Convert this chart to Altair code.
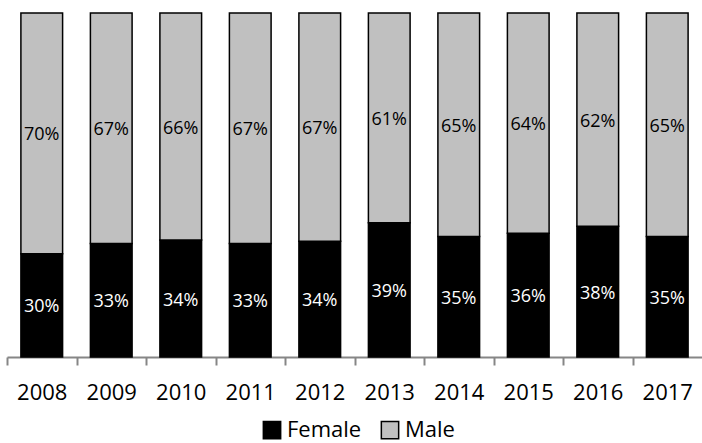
import altair as alt
import pandas as pd

# Share of each sex per year (percent)
years = ["2008", "2009", "2010", "2011", "2012", "2013", "2014", "2015", "2016", "2017"]
female = [30, 33, 34, 33, 34, 39, 35, 36, 38, 35]
male = [70, 67, 66, 67, 67, 61, 65, 64, 62, 65]
series = ["Female", "Male"]
colors = ["#000000", "#c0c0c0"]
label_colors = ["#ffffff", "#000000"]

rows = []
for i, y in enumerate(years):
    rows.append({"year": y, "sex": "Female", "value": female[i], "order": 0})
    rows.append({"year": y, "sex": "Male", "value": male[i], "order": 1})
df = pd.DataFrame(rows)

FONT = "Open Sans"
PLOT_W = 695
STEP = PLOT_W / len(years)  # band step with paddingInner 0.4, paddingOuter 0.2

base = (
    alt.Chart(df)
    .transform_joinaggregate(total="sum(value)", groupby=["year"])
    .transform_calculate(frac="datum.value / datum.total")
    .transform_stack(
        stack="frac", groupby=["year"], as_=["y0", "y1"],
        sort=[alt.SortField("order", order="ascending")],
    )
    .transform_calculate(mid="(datum.y0 + datum.y1) / 2",
                         label="datum.value + '%'")
)

# ticks sit halfway between categories, labels stay centred on the bars
x_enc = alt.X(
    "year:N",
    sort=years,
    title=None,
    scale=alt.Scale(paddingInner=0.4, paddingOuter=0.2),
    axis=alt.Axis(
        labelAngle=0, labelFont=FONT, labelFontSize=22, labelColor="#000000",
        labelPadding=17, labelOffset=STEP / 2,
        ticks=True, tickSize=8, tickOffset=-STEP / 2,
        tickColor="#868686", tickWidth=2, domainColor="#868686",
        domainWidth=2, grid=False,
    ),
)
y_scale = alt.Scale(domain=[0, 1], nice=False, zero=True)

bars = base.mark_bar(stroke="#000000", strokeWidth=1.5).encode(
    x=x_enc,
    y=alt.Y("y0:Q", scale=y_scale, axis=None),
    y2="y1:Q",
    color=alt.Color(
        "sex:N",
        scale=alt.Scale(domain=series, range=colors),
        legend=alt.Legend(
            title=None, orient="none", direction="horizontal",
            legendX=254, legendY=406, symbolType="square", symbolSize=300,
            symbolStrokeColor="#000000", symbolStrokeWidth=1.5,
            labelFont=FONT, labelFontSize=22, labelColor="#000000",
            columnPadding=16, labelOffset=4,
        ),
    ),
)

labels = base.mark_text(font=FONT, fontSize=18, dy=2).encode(
    x=alt.X("year:N", sort=years),
    y=alt.Y("mid:Q", scale=y_scale),
    text="label:N",
    color=alt.Color("sex:N", scale=alt.Scale(domain=series, range=label_colors),
                    legend=None),
)

chart = (
    alt.layer(bars, labels)
    .resolve_scale(color="independent")
    .properties(
        width=PLOT_W, height=344,
        padding={"left": 7, "top": 13, "right": 0, "bottom": 86},
        autosize=alt.AutoSizeParams(type="none"),
        background="#ffffff",
    )
    .configure_view(stroke=None)
)

chart.save("out.html", embed_options={"renderer": "svg", "actions": False})
